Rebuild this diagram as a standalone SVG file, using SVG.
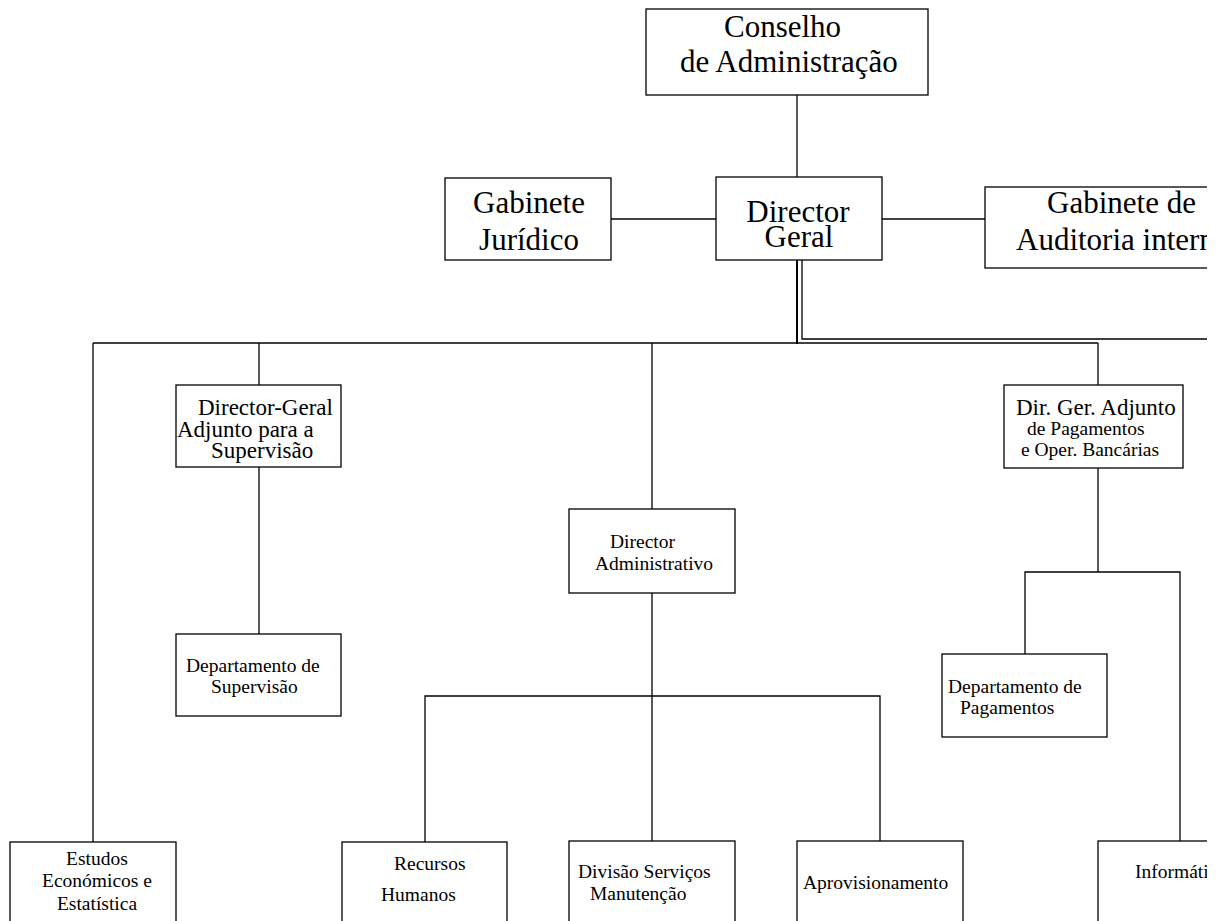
<svg xmlns="http://www.w3.org/2000/svg" width="1224" height="921" viewBox="0 0 1224 921">
<style>
.box{fill:#fff;stroke:#000;stroke-width:1.3}
.ln{fill:none;stroke:#000;stroke-width:1.3}
.thick{fill:none;stroke:#000;stroke-width:2}
text{font-family:'Liberation Serif','DejaVu Serif',serif;fill:#000}
.big{font-size:31px}
.mid{font-size:23px}
.sm{font-size:19.5px}
</style>
<defs>
<clipPath id="page"><rect x="0" y="0" width="1207" height="921"/></clipPath>
</defs>
<rect x="0" y="0" width="1224" height="921" fill="#fff"/>
<g clip-path="url(#page)" font-family="Liberation Serif, serif">
<g id="connectors">
<line class="ln" x1="797" y1="95" x2="797" y2="177"/>
<line class="ln" x1="611" y1="219" x2="716" y2="219"/>
<line class="ln" x1="882" y1="219" x2="985" y2="219"/>
<line class="thick" x1="797" y1="260" x2="797" y2="344"/>
<polyline class="ln" points="802,257 802,339 1210,339"/>
<line class="ln" x1="93" y1="343" x2="1098" y2="343"/>
<line class="ln" x1="93" y1="343" x2="93" y2="842"/>
<line class="ln" x1="259" y1="343" x2="259" y2="385"/>
<line class="ln" x1="652" y1="343" x2="652" y2="509"/>
<line class="ln" x1="1098" y1="343" x2="1098" y2="385"/>
<line class="ln" x1="259" y1="467" x2="259" y2="634"/>
<line class="ln" x1="652" y1="593" x2="652" y2="841"/>
<polyline class="ln" points="425,842 425,696 880,696 880,841"/>
<line class="ln" x1="1098" y1="468" x2="1098" y2="572"/>
<polyline class="ln" points="1025,654 1025,572 1180,572 1180,841"/>
</g>
<g id="conselho">
<rect class="box" x="646" y="9" width="282" height="86"/>
<text class="big" x="724" y="37">Conselho</text>
<text class="big" x="680" y="72">de Administração</text>
</g>
<g id="director-geral">
<rect class="box" x="716" y="177" width="166" height="83"/>
<text class="big" x="798" y="222" text-anchor="middle" font-size="30">Director</text>
<text class="big" x="799" y="247" text-anchor="middle" font-size="30">Geral</text>
</g>
<g id="gabinete-juridico">
<rect class="box" x="445" y="178" width="166" height="82"/>
<text class="big" x="529" y="213" text-anchor="middle">Gabinete</text>
<text class="big" x="529" y="250" text-anchor="middle">Jurídico</text>
</g>
<g id="gabinete-auditoria">
<rect class="box" x="985" y="187" width="260" height="81"/>
<text class="big" x="1047" y="213">Gabinete de</text>
<text class="big" x="1016" y="250">Auditoria intern</text>
</g>
<g id="dga-supervisao">
<rect class="box" x="176" y="385" width="165" height="82"/>
<text class="mid" x="198" y="415">Director-Geral</text>
<text class="mid" x="177" y="437">Adjunto para a</text>
<text class="mid" x="211" y="458">Supervisão</text>
</g>
<g id="dept-supervisao">
<rect class="box" x="176" y="634" width="165" height="82"/>
<text class="sm" x="186" y="672">Departamento de</text>
<text class="sm" x="211" y="693">Supervisão</text>
</g>
<g id="director-administrativo">
<rect class="box" x="569" y="509" width="166" height="84"/>
<text class="sm" x="610" y="548">Director</text>
<text class="sm" x="595" y="570">Administrativo</text>
</g>
<g id="dga-pagamentos">
<rect class="box" x="1004" y="385" width="179" height="83"/>
<text class="mid" x="1016" y="415">Dir. Ger. Adjunto</text>
<text class="sm" x="1027" y="435">de Pagamentos</text>
<text class="sm" x="1021" y="456">e Oper. Bancárias</text>
</g>
<g id="dept-pagamentos">
<rect class="box" x="942" y="654" width="165" height="83"/>
<text class="sm" x="948" y="693">Departamento de</text>
<text class="sm" x="960" y="714">Pagamentos</text>
</g>
<g id="estudos">
<rect class="box" x="10" y="842" width="166" height="100"/>
<text class="sm" x="97" y="865" text-anchor="middle">Estudos</text>
<text class="sm" x="97" y="887" text-anchor="middle">Económicos e</text>
<text class="sm" x="97" y="910" text-anchor="middle">Estatística</text>
</g>
<g id="recursos-humanos">
<rect class="box" x="342" y="842" width="165" height="100"/>
<text class="sm" x="394" y="870">Recursos</text>
<text class="sm" x="381" y="901">Humanos</text>
</g>
<g id="divisao-servicos">
<rect class="box" x="569" y="841" width="166" height="100"/>
<text class="sm" x="578" y="878">Divisão Serviços</text>
<text class="sm" x="590" y="900">Manutenção</text>
</g>
<g id="aprovisionamento">
<rect class="box" x="797" y="841" width="166" height="100"/>
<text class="sm" x="803" y="889">Aprovisionamento</text>
</g>
<g id="informatica">
<rect class="box" x="1098" y="841" width="200" height="100"/>
<text class="sm" x="1135" y="878">Informáti</text>
</g>
</g>
</svg>
